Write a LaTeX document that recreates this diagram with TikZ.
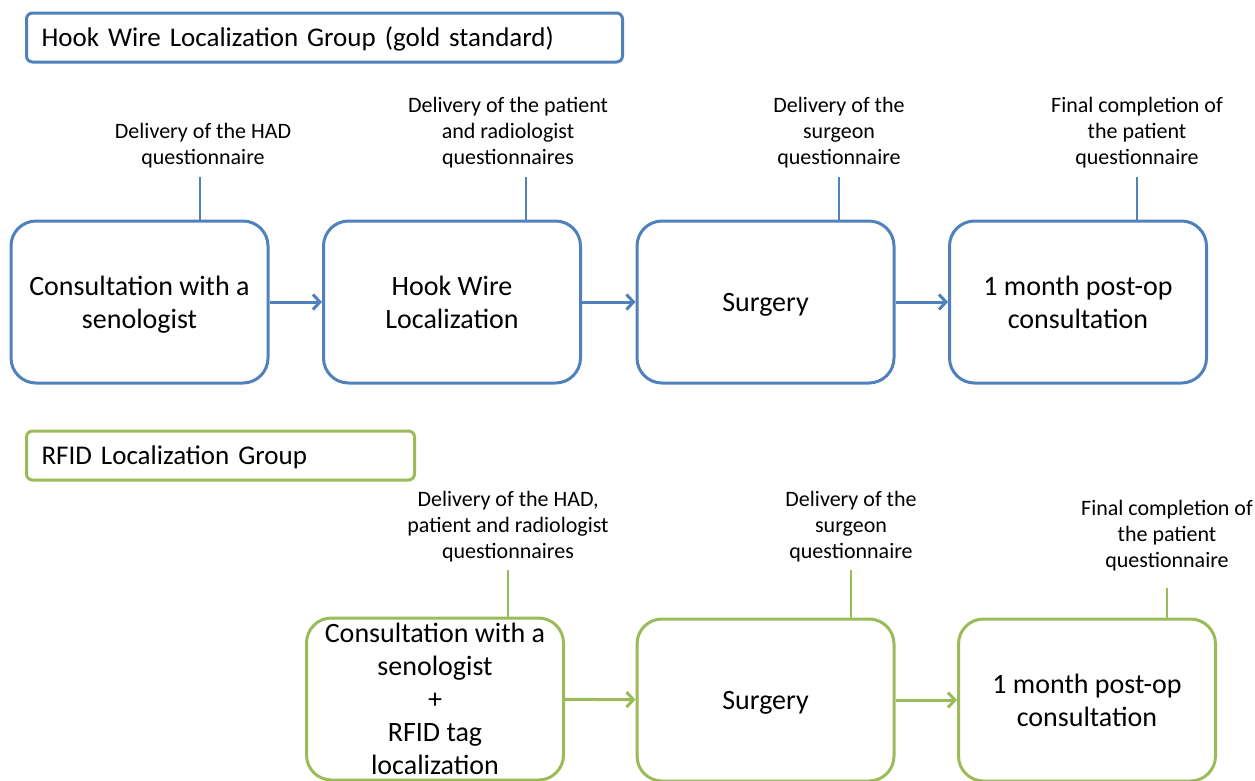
\documentclass[tikz,border=0pt]{standalone}
\usepackage{fontspec}
\setmainfont{Carlito}
\usetikzlibrary{arrows.meta}
\definecolor{hookblue}{HTML}{4F81BD}
\definecolor{rfidgreen}{HTML}{9BBB59}

\tikzset{
  groupbox/.style = {draw = #1, line width = 3pt, rounded corners = 6pt, anchor = west,
                     minimum height = 49pt, inner xsep = 15pt, text width = 566pt, align = left,
                     text height = 17.4pt, text depth = 0pt,
                     font = \fontsize{27}{32}\selectfont},
  stepbox/.style  = {draw = #1, line width = 3pt, rounded corners = 25pt, fill = white,
                     minimum width = 257pt, minimum height = 162pt, align = center,
                     text depth = 0pt, font = \fontsize{28}{33}\selectfont},
  notetext/.style = {align = center, font = \fontsize{22}{26}\selectfont},
  tick/.style     = {draw = #1, line width = 1.5pt},
  flow/.style     = {draw = #1, line width = 3pt, -{Straight Barb[length = 7pt, width = 15pt]}}
}

\begin{document}
\begin{tikzpicture}[x = 1pt, y = -1pt]
        \useasboundingbox (0, 0) rectangle (1255, 780);

        % Hook wire group
        \node [groupbox = hookblue] (g1) at (25, 37.5) {Hook Wire Localization Group (gold standard)};

        \node [stepbox = hookblue] (a1) at (139.5, 302) {Consultation with a\\senologist};
        \node [stepbox = hookblue] (a2) at (452, 302) {Hook Wire\\Localization};
        \node [stepbox = hookblue] (a3) at (765.5, 302) {Surgery};
        \node [stepbox = hookblue] (a4) at (1078, 302) {1 month post-op\\consultation};

        \node [notetext] (n1) at (203, 146) {Delivery of the HAD\\questionnaire};
        \node [notetext] (n2) at (508, 133) {Delivery of the patient\\and radiologist\\questionnaires};
        \node [notetext] (n3) at (839, 133) {Delivery of the\\surgeon\\questionnaire};
        \node [notetext] (n4) at (1137, 133) {Final completion of\\the patient\\questionnaire};

        \coordinate (t1) at (200, 177);
        \coordinate (t2) at (526, 177);
        \coordinate (t3) at (839, 177);
        \coordinate (t4) at (1137, 177);
        \foreach \i in {1, ..., 4}
            \draw [tick = hookblue] (t\i) -- (t\i |- a\i.north);

        \draw [flow = hookblue] (a1) -- (a2);
        \draw [flow = hookblue] (a2) -- (a3);
        \draw [flow = hookblue] (a3) -- (a4);

        % RFID group
        \node [groupbox = rfidgreen, text width = 358pt] (g2) at (25, 455.5) {RFID Localization Group};

        \node [stepbox = rfidgreen] (b1) at (435, 699) {Consultation with a\\senologist\\+\\RFID tag\\localization};
        \node [stepbox = rfidgreen] (b2) at (765.5, 700) {Surgery};
        \node [stepbox = rfidgreen] (b3) at (1087, 700) {1 month post-op\\consultation};

        \node [notetext] (m1) at (508, 527) {Delivery of the HAD,\\patient and radiologist\\questionnaires};
        \node [notetext] (m2) at (851, 527) {Delivery of the\\surgeon\\questionnaire};
        \node [notetext] (m3) at (1167, 536) {Final completion of\\the patient\\questionnaire};

        \coordinate (s1) at (508, 570);
        \coordinate (s2) at (851, 570);
        \coordinate (s3) at (1167, 588);
        \foreach \i in {1, ..., 3}
            \draw [tick = rfidgreen] (s\i) -- (s\i |- b\i.north);

        \draw [flow = rfidgreen] (b1) -- (b2);
        \draw [flow = rfidgreen] (b2) -- (b3);

    \end{tikzpicture}
\end{document}
